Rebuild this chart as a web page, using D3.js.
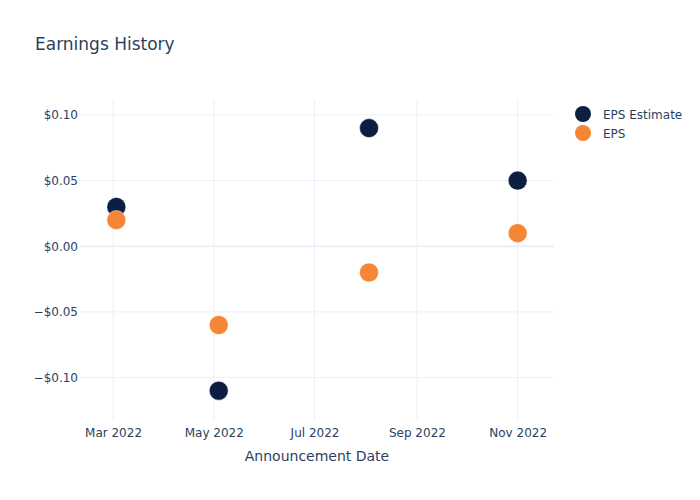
<!DOCTYPE html>
<html>
<head>
<meta charset="utf-8">
<script src="https://cdn.jsdelivr.net/npm/d3@7"></script>
<style>
  body { margin: 0; background: #fff; }
  svg { font-family: "DejaVu Sans", sans-serif; }
</style>
</head>
<body>
<svg id="chart" width="700" height="500"></svg>
<script>
// Data
const dates = ["2022-03-03", "2022-05-04", "2022-08-03", "2022-11-01"];
const epsEstimate = [0.03, -0.11, 0.09, 0.05];
const eps = [0.02, -0.06, -0.02, 0.01];
const xTicks = ["2022-03-01", "2022-05-01", "2022-07-01", "2022-09-01", "2022-11-01"];
const yTicks = [-0.10, -0.05, 0, 0.05, 0.10];
const seriesNames = ["EPS Estimate", "EPS"];
const seriesColors = ["#0c1f42", "#f68536"];

const parse = d3.utcParse("%Y-%m-%d");
const width = 700, height = 500;
const margin = { top: 100, right: 146, bottom: 80, left: 80 };

const svg = d3.select("#chart");

const x = d3.scaleUtc()
    .domain([parse("2022-02-09"), parse("2022-11-23")])
    .range([margin.left, width - margin.right]);

const y = d3.scaleLinear()
    .domain([-0.1323, 0.1114])
    .range([height - margin.bottom, margin.top]);

const gridColor = "#ebf0f8";
const textColor = "#2a3f5f";

// grid lines
svg.append("g")
    .selectAll("line")
    .data(xTicks)
    .join("line")
    .attr("x1", d => x(parse(d))).attr("x2", d => x(parse(d)))
    .attr("y1", margin.top).attr("y2", height - margin.bottom)
    .attr("stroke", gridColor).attr("stroke-width", 1);

svg.append("g")
    .selectAll("line")
    .data(yTicks.filter(d => d !== 0))
    .join("line")
    .attr("x1", margin.left).attr("x2", width - margin.right)
    .attr("y1", d => y(d)).attr("y2", d => y(d))
    .attr("stroke", gridColor).attr("stroke-width", 1);

// zero line
svg.append("line")
    .attr("x1", margin.left).attr("x2", width - margin.right)
    .attr("y1", y(0)).attr("y2", y(0))
    .attr("stroke", gridColor).attr("stroke-width", 2);

// axes
const fmtY = d => (d < 0 ? "\u2212$" : "$") + Math.abs(d).toFixed(2);
const yAxis = svg.append("g")
    .attr("transform", `translate(${margin.left},0)`)
    .call(d3.axisLeft(y).tickValues(yTicks).tickFormat(fmtY).tickSize(0).tickPadding(2));
yAxis.select(".domain").remove();
yAxis.selectAll("text").attr("fill", textColor).style("font-size", "12px")
    .style("font-family", '"DejaVu Sans", sans-serif');

const fmtX = d3.utcFormat("%b %Y");
const xAxis = svg.append("g")
    .attr("transform", `translate(0,${height - margin.bottom})`)
    .call(d3.axisBottom(x).tickValues(xTicks.map(parse)).tickFormat(fmtX).tickSize(0).tickPadding(8));
xAxis.select(".domain").remove();
xAxis.selectAll("text").attr("fill", textColor).style("font-size", "12px")
    .style("font-family", '"DejaVu Sans", sans-serif');

// axis title
svg.append("text")
    .attr("x", (margin.left + width - margin.right) / 2)
    .attr("y", 461)
    .attr("text-anchor", "middle")
    .attr("fill", textColor)
    .style("font-size", "14px")
    .text("Announcement Date");

// chart title
svg.append("text")
    .attr("x", 35).attr("y", 50)
    .attr("fill", textColor)
    .style("font-size", "17px")
    .text("Earnings History");

// markers
const series = [epsEstimate, eps];
series.forEach(function(vals, s) {
    svg.append("g")
        .selectAll("circle")
        .data(vals)
        .join("circle")
        .attr("cx", (d, i) => x(parse(dates[i])))
        .attr("cy", d => y(d))
        .attr("r", 9.5)
        .attr("fill", seriesColors[s])
        .attr("stroke", "#fff").attr("stroke-width", 0.5);
});

// legend
const legend = svg.append("g").attr("transform", "translate(583,114)");
seriesNames.forEach(function(name, i) {
    legend.append("circle")
        .attr("cx", 0).attr("cy", i * 19)
        .attr("r", 8)
        .attr("fill", seriesColors[i]);
    legend.append("text")
        .attr("x", 20).attr("y", i * 19 + 4.5)
        .attr("fill", textColor)
        .style("font-size", "12px")
        .text(name);
});
</script>
</body>
</html>
